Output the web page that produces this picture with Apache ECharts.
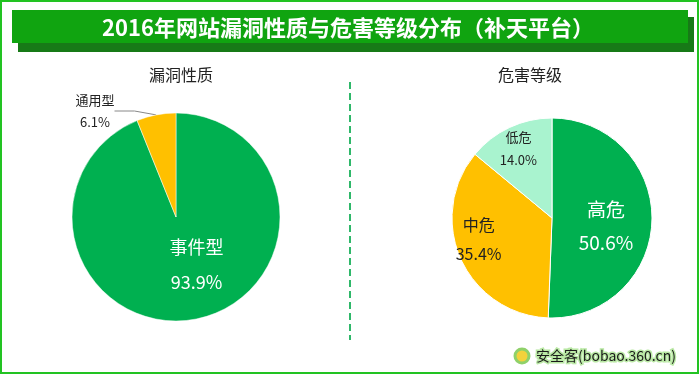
<!DOCTYPE html>
<html>
<head>
<meta charset="utf-8">
<script src="https://cdn.jsdelivr.net/npm/echarts@6/dist/echarts.min.js"></script>
<style>
    html, body { margin: 0; padding: 0; background: #fff; }
    #chart { width: 700px; height: 375px; }
</style>
</head>
<body>
<div id="chart"></div>
<script>
    // 漏洞性质
    var typeNames = ['事件型', '通用型'];
    var typeValues = [93.9, 6.1];
    // 危害等级
    var levelNames = ['高危', '中危', '低危'];
    var levelValues = [50.6, 35.4, 14.0];

    var cjk = '"Noto Sans CJK SC", "Noto Sans", sans-serif';
    var fmt = function (p) {
        return p.name + '\n' + p.value.toFixed(1) + '%';
    };

    var typeColors = ['#00b050', '#ffc000'];
    var levelColors = ['#00b050', '#ffc000', '#a9f3cf'];

    var myChart = echarts.init(document.getElementById('chart'));
    var option = {
        animation: false,
        title: [
            {
                text: '漏洞性质', left: 176, top: 62, textAlign: 'center',
                textStyle: {fontFamily: cjk, fontSize: 16, fontWeight: 'normal', color: '#222'}
            },
            {
                text: '危害等级', left: 525, top: 62, textAlign: 'center',
                textStyle: {fontFamily: cjk, fontSize: 16, fontWeight: 'normal', color: '#222'}
            }
        ],
        graphic: [
            // 外边框
            {type: 'rect', shape: {x: 1, y: 1, width: 697, height: 372},
                style: {fill: 'none', stroke: '#22c322', lineWidth: 2}},
            // 标题条阴影
            {type: 'rect', shape: {x: 18, y: 17, width: 676, height: 35},
                style: {fill: '#177a17'}},
            {type: 'rect', shape: {x: 12, y: 10, width: 676, height: 33},
                style: {fill: '#10a410'}},
            {type: 'text', x: 348, y: 28,
                style: {text: '2016年网站漏洞性质与危害等级分布（补天平台）', fill: '#fff',
                    font: 'bold 22px ' + cjk, textAlign: 'center', textVerticalAlign: 'middle'}},
            // 分隔虚线
            {type: 'line', shape: {x1: 350, y1: 82, x2: 350, y2: 340},
                style: {stroke: '#2fb86a', lineWidth: 2, lineDash: [7, 4]}},
            // 水印
            {type: 'circle', shape: {cx: 522, cy: 356, r: 7},
                style: {fill: '#f2d23c', stroke: '#8fd16a', lineWidth: 3}},
            {type: 'text', x: 606, y: 356,
                style: {text: '安全客(bobao.360.cn)', fill: '#1a1a1a', stroke: '#b9e8a4', lineWidth: 3,
                    font: '14px ' + cjk, textAlign: 'center', textVerticalAlign: 'middle'}}
        ],
        series: [
            {
                type: 'pie',
                center: [176, 217],
                radius: [0, 104],
                startAngle: 90,
                itemStyle: {borderColor: '#fff', borderWidth: 0.5},
                label: {
                    position: 'inside', formatter: fmt, color: '#fff',
                    fontFamily: cjk, fontSize: 18, lineHeight: 35
                },
                labelLayout: function (p) {
                    if (p.dataIndex === 0) {
                        return {dx: 10, dy: -6};
                    }
                    return {x: 95, y: 111, align: 'center', verticalAlign: 'middle'};
                },
                data: typeNames.map(function (n, i) {
                    var d = {name: n, value: typeValues[i], itemStyle: {color: typeColors[i]}};
                    if (i === 1) {
                        d.label = {position: 'outside', color: '#222', fontSize: 13, lineHeight: 22};
                        d.labelLine = {show: true, length: 10, length2: 20,
                            lineStyle: {color: '#888', width: 1}};
                    }
                    return d;
                })
            },
            {
                type: 'pie',
                center: [552, 218],
                radius: [0, 100],
                startAngle: 90,
                itemStyle: {borderColor: '#fff', borderWidth: 1},
                label: {
                    position: 'inside', formatter: fmt, color: '#222',
                    fontFamily: cjk, fontSize: 16, lineHeight: 29
                },
                labelLayout: function (p) {
                    var moves = [{dx: 1, dy: 7}, {dx: -25, dy: 0}, {dx: -11, dy: -21}];
                    return moves[p.dataIndex];
                },
                data: levelNames.map(function (n, i) {
                    var d = {name: n, value: levelValues[i], itemStyle: {color: levelColors[i]}};
                    if (i === 0) {
                        d.label = {color: '#fff', fontSize: 19, lineHeight: 33};
                    }
                    if (i === 2) {
                        d.label = {fontSize: 13, lineHeight: 23};
                    }
                    return d;
                })
            }
        ]
    };
    myChart.setOption(option, true);
</script>
</body>
</html>
